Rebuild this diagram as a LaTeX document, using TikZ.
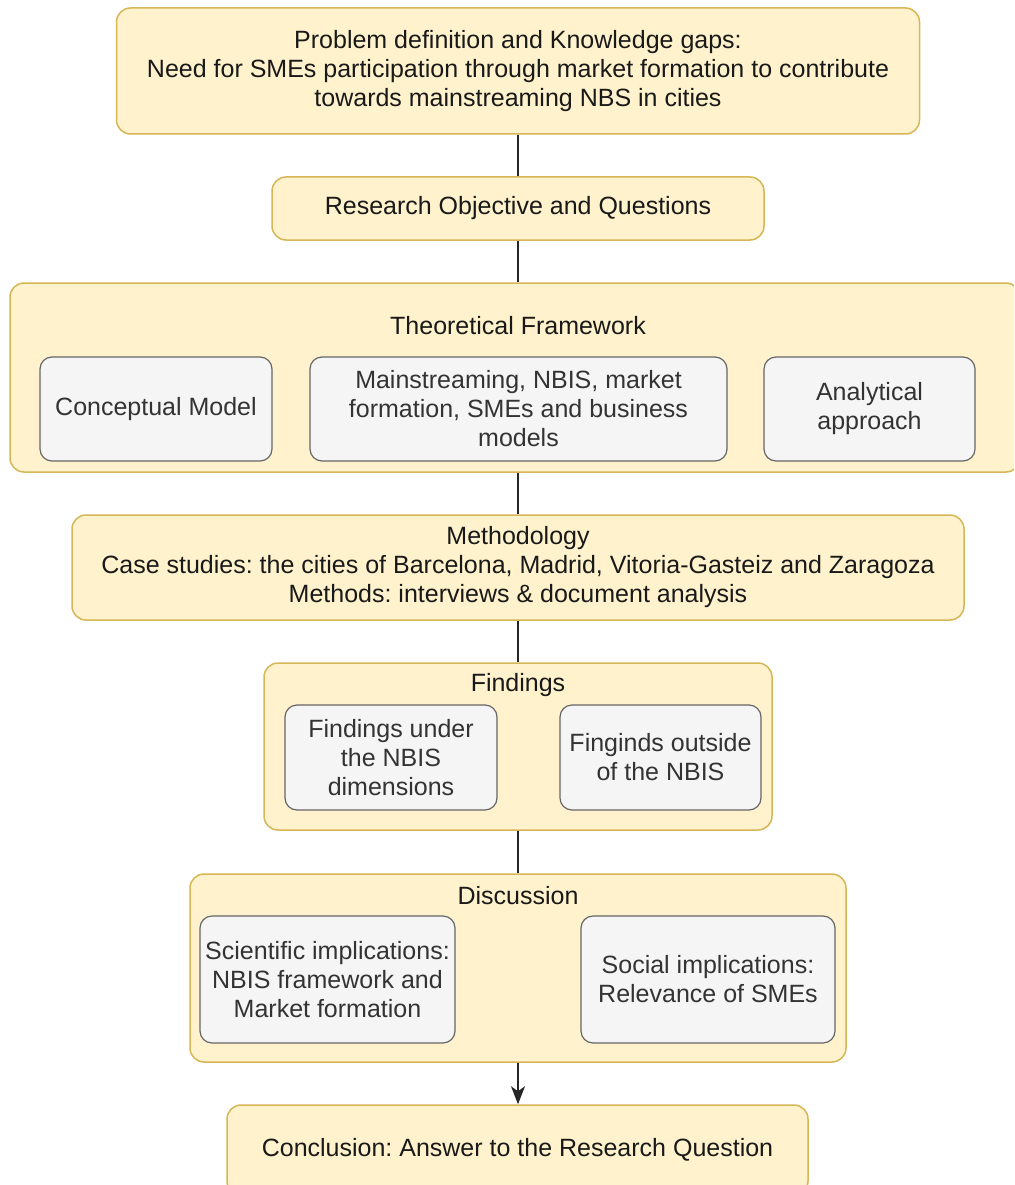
\documentclass[tikz,border=0pt]{standalone}
\usepackage{fontspec}
\setmainfont{Liberation Sans}
\usetikzlibrary{arrows.meta}
\definecolor{boxfill}{HTML}{FFF2CC}
\definecolor{boxline}{HTML}{D6B656}
\definecolor{subfill}{HTML}{F5F5F5}
\definecolor{subline}{HTML}{666666}
\definecolor{subtext}{HTML}{333333}
\frenchspacing

\begin{document}
\begin{tikzpicture}[x=1pt,y=-1pt,font=\fontsize{25}{29}\selectfont,
  outerbox/.style={draw=boxline,fill=boxfill,rounded corners=14pt,line width=1.5pt,
    align=center,inner sep=0pt,text=black!90},
  innerbox/.style={draw=subline,fill=subfill,rounded corners=12pt,line width=1.2pt,
    align=center,inner sep=0pt,text=subtext},
  title/.style={text=black!90,inner sep=0pt},
  link/.style={line width=1.5pt,black!85}]
\clip (0,0) rectangle (1014,1185);
% main column
\node[outerbox,minimum width=803pt,minimum height=126pt] (problem) at (518,71)
  {Problem definition and Knowledge gaps:\\Need for SMEs participation through market formation to contribute\\towards mainstreaming NBS in cities};
\node[outerbox,minimum width=492pt,minimum height=63pt] (objective) at (518,208.5)
  {Research Objective and Questions};
% theoretical framework
\node[outerbox,minimum width=1010pt,minimum height=189pt] (theory) at (515,377.5) {};
\node[title] (theorytitle) at (518,326) {Theoretical Framework};
\node[innerbox,minimum width=232pt,minimum height=104pt] (concept) at (156,409)
  {Conceptual Model};
\node[innerbox,minimum width=417pt,minimum height=104pt] (mainstream) at (518.5,409)
  {Mainstreaming, NBIS, market\\formation, SMEs and business\\models};
\node[innerbox,minimum width=211pt,minimum height=104pt] (analytic) at (869.5,409)
  {Analytical\\approach};
% methodology
\node[outerbox,minimum width=892pt,minimum height=105pt] (method) at (518,567.5)
  {Methodology\\Case studies: the cities of Barcelona, Madrid, Vitoria-Gasteiz and Zaragoza\\Methods: interviews \& document analysis};
% findings
\node[outerbox,minimum width=508pt,minimum height=167pt] (findings) at (518,746.5) {};
\node[title] (findingstitle) at (518,685) {Findings};
\node[innerbox,minimum width=212pt,minimum height=105pt] (under) at (391,757.5)
  {Findings under\\the NBIS\\dimensions};
\node[innerbox,minimum width=201pt,minimum height=105pt] (outside) at (660.5,757.5)
  {Finginds outside\\of the NBIS};
% discussion
\node[outerbox,minimum width=656pt,minimum height=188pt] (discussion) at (518,968) {};
\node[title] (discussiontitle) at (518,896) {Discussion};
\node[innerbox,minimum width=255pt,minimum height=127pt] (science) at (327.5,979.5)
  {Scientific implications:\\NBIS framework and\\Market formation};
\node[innerbox,minimum width=254pt,minimum height=127pt] (social) at (708,979.5)
  {Social implications:\\Relevance of SMEs};
% conclusion
\node[outerbox,minimum width=581pt,minimum height=90pt] (conclusion) at (517.5,1150)
  {Conclusion: Answer to the Research Question};
% connectors
\draw[link] (problem) -- (objective);
\draw[link] (objective) -- (theory.north -| objective);
\draw[link] (theory.south -| objective) -- (method);
\draw[link] (method) -- (findings);
\draw[link] (findings) -- (discussion);
\draw[link,-{Stealth[length=18pt,width=14pt,inset=5pt]}] (discussion) -- (discussion.south |- conclusion.north);
\end{tikzpicture}
\end{document}
